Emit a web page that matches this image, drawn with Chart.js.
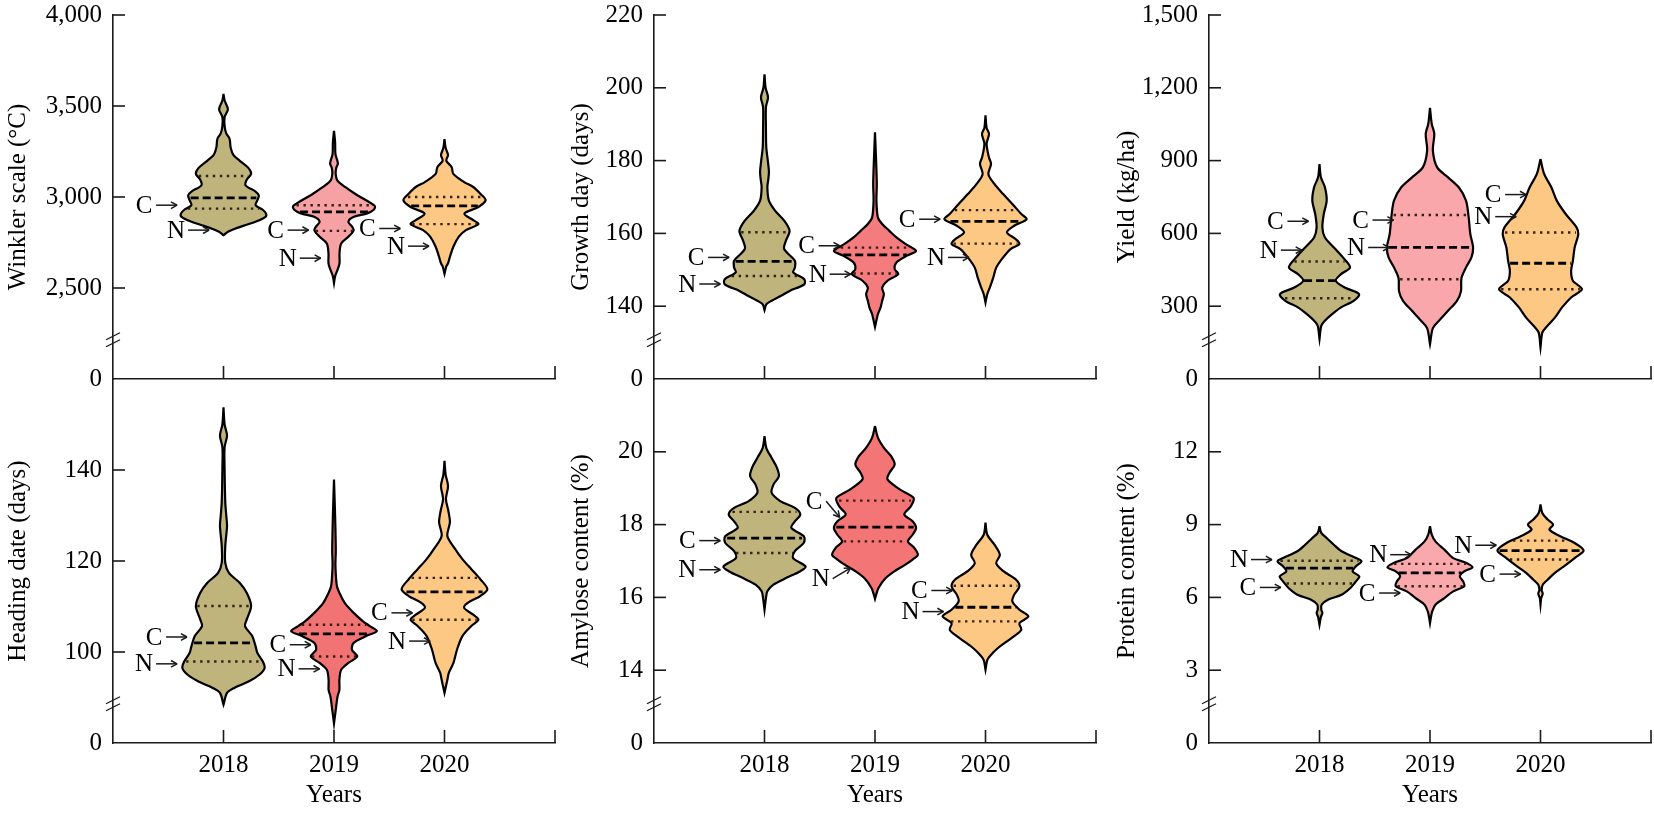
<!DOCTYPE html>
<html>
<head>
<meta charset="utf-8">
<title>Violin plots</title>
<script src="https://cdn.jsdelivr.net/npm/chart.js@4.4.1/dist/chart.umd.min.js"></script>
<style>
  body { margin: 0; background: #fff; width: 1654px; height: 814px; position: relative; overflow: hidden; }
  canvas { position: absolute; }
</style>
</head>
<body>
<script>
const years = ['2018', '2019', '2020'];

// each violin: [value, half width in x-axis units], listed top to bottom
// quartiles: [upper quartile, median, lower quartile] per year
// notes: [letter, arrow tip x, arrow tip value, arrow angle]

// Winkler scale (°C)
const winkler2018 = [[3567,0],[3530,0.01],[3482,0.04],[3440,0.01],[3390,0.01],[3350,0.025],[3320,0.055],[3270,0.065],[3230,0.09],[3200,0.145],[3160,0.225],[3127,0.25],[3095,0.21],[3064,0.2],[3030,0.29],[3009,0.32],[2980,0.305],[2955,0.29],[2930,0.355],[2909,0.385],[2891,0.38],[2864,0.29],[2845,0.195],[2827,0.11],[2809,0.04],[2790,0]];
const winkler2019 = [[3364,0],[3300,0.01],[3236,0.013],[3200,0.03],[3182,0.035],[3160,0.02],[3130,0.015],[3091,0.03],[3055,0.1],[3018,0.19],[2982,0.29],[2950,0.37],[2930,0.36],[2910,0.3],[2891,0.18],[2864,0.13],[2840,0.16],[2818,0.178],[2800,0.16],[2782,0.13],[2745,0.065],[2691,0.05],[2636,0.05],[2600,0.032],[2564,0.01],[2527,0]];
const winkler2020 = [[3318,0],[3270,0.01],[3230,0.032],[3200,0.016],[3164,0.065],[3127,0.08],[3082,0.178],[3055,0.26],[3018,0.324],[2982,0.372],[2945,0.307],[2909,0.18],[2873,0.26],[2851,0.307],[2818,0.194],[2782,0.13],[2727,0.08],[2673,0.05],[2636,0.032],[2618,0.016],[2578,0]];
const winklerQuartiles = [[3115,2995,2936],[2955,2918,2814],[3000,2951,2851]];
const winklerNotes = [['C',0.58,2955,0],['N',0.87,2818,0],['C',1.77,2818,0],['N',1.88,2664,0],['C',2.6,2827,0],['N',2.86,2730,0]];

// Growth day (days)
const growth2018 = [[203.7,0],[200,0.01],[197.4,0.032],[194.7,0.013],[189,0.013],[183.7,0.016],[180,0.03],[177,0.04],[175,0.035],[172.7,0.026],[169,0.04],[166.2,0.097],[163.5,0.178],[160.7,0.227],[158,0.194],[155.7,0.178],[152.5,0.275],[150.6,0.275],[149.3,0.26],[147.4,0.36],[146,0.36],[144.2,0.227],[142.8,0.146],[141.5,0.065],[140.5,0.016],[138.9,0]];
const growth2019 = [[187.8,0],[180,0.01],[174.5,0.016],[172.7,0.016],[169,0.013],[164.4,0.026],[162.6,0.065],[160.7,0.13],[158.9,0.194],[157.1,0.275],[155.2,0.372],[153.9,0.29],[152,0.194],[150.2,0.178],[148.8,0.21],[147,0.113],[145.1,0.065],[143.3,0.08],[141.5,0.065],[139.6,0.05],[137.8,0.026],[134.3,0]];
const growth2020 = [[192.4,0],[189,0.01],[187.3,0.032],[184.6,0.01],[181,0.03],[179.1,0.05],[176.3,0.026],[173.6,0.08],[170.8,0.16],[168.1,0.243],[165.3,0.324],[163.9,0.372],[162.1,0.26],[160.3,0.194],[158.4,0.275],[157.1,0.307],[155.7,0.227],[153.4,0.16],[150.6,0.097],[147.9,0.071],[145.1,0.039],[143.3,0.016],[141,0]];
const growthQuartiles = [[160.3,152.3,148.3],[156.1,154.1,149],[166.4,163.3,157.2]];
const growthNotes = [['C',0.68,153.4,0],['N',0.6,146.1,0],['C',1.68,156.6,0],['N',1.78,148.8,0],['C',2.59,163.9,0],['N',2.85,153.4,0]];

// Yield (kg/ha)
const yield2018 = [[886,0],[831,0.013],[790,0.049],[735,0.065],[680,0.039],[625,0.026],[583,0.049],[542,0.13],[501,0.212],[460,0.277],[432,0.195],[405,0.147],[377,0.228],[350,0.358],[322,0.309],[295,0.195],[267,0.114],[240,0.049],[219,0.016],[164,0]];
const yield2019 = [[1117,0],[1051,0.016],[1010,0.039],[941,0.026],[872,0.065],[831,0.163],[790,0.26],[735,0.326],[666,0.35],[597,0.365],[542,0.39],[501,0.375],[460,0.326],[416,0.285],[361,0.28],[322,0.244],[281,0.163],[240,0.081],[210,0.026],[143,0]];
const yield2020 = [[907,0],[845,0.033],[790,0.098],[735,0.147],[680,0.228],[625,0.326],[597,0.342],[542,0.309],[487,0.293],[446,0.277],[405,0.293],[370,0.375],[336,0.277],[295,0.195],[253,0.13],[212,0.049],[191,0.016],[129,0]];
const yieldQuartiles = [[484,405,333],[676,542,411],[604,477,370]];
const yieldNotes = [['C',0.9,650,0],['N',0.84,531,0],['C',1.67,655,0],['N',1.63,542,0],['C',2.87,760,0],['N',2.78,669,0]];

// Heading date (days)
const heading2018 = [[153.8,0],[150,0.01],[147.6,0.032],[145,0.01],[140.2,0.01],[132.9,0.016],[130,0.025],[127.7,0.032],[123.3,0.016],[119.6,0.016],[117.4,0.049],[115.2,0.146],[113,0.21],[110.1,0.25],[107.1,0.21],[105.7,0.194],[103.5,0.26],[101.3,0.29],[99.8,0.307],[97.9,0.356],[96.5,0.372],[95,0.324],[93.5,0.227],[92.1,0.097],[91,0.032],[88.4,0]];
const heading2019 = [[137.9,0],[130,0.01],[123.3,0.016],[121.8,0.016],[118.9,0.013],[114.5,0.026],[113,0.049],[110.8,0.097],[108.6,0.178],[106.8,0.26],[105.7,0.324],[104.6,0.388],[103.5,0.29],[102,0.178],[100.5,0.162],[99,0.21],[97.6,0.13],[96.1,0.065],[93.9,0.049],[91.7,0.049],[90.2,0.032],[87.3,0.016],[84.3,0]];
const heading2020 = [[142,0],[139,0.01],[136.5,0.032],[133.6,0.013],[131,0.035],[128.5,0.049],[125.5,0.026],[122.6,0.097],[120.4,0.162],[118.2,0.243],[116,0.324],[113.8,0.388],[112.3,0.324],[110.8,0.21],[109.7,0.178],[108.2,0.26],[107.1,0.307],[105.7,0.243],[103.5,0.162],[100.5,0.113],[97.6,0.081],[95.4,0.039],[93.9,0.026],[91,0]];
const headingQuartiles = [[110.1,102,97.9],[106,104,99],[116.3,113.2,107.1]];
const headingNotes = [['C',0.67,103.3,0],['N',0.58,97.4,0],['C',1.79,101.6,0],['N',1.87,96.3,0],['C',2.71,108.6,0],['N',2.87,102.4,0]];

// Amylose content (%)
const amylose2018 = [[20.43,0],[20.11,0.016],[19.83,0.065],[19.56,0.113],[19.33,0.13],[19.1,0.081],[18.87,0.065],[18.64,0.146],[18.46,0.275],[18.28,0.324],[18.09,0.275],[17.91,0.243],[17.68,0.356],[17.5,0.356],[17.27,0.275],[17.08,0.259],[16.85,0.372],[16.72,0.324],[16.53,0.194],[16.35,0.081],[16.17,0.026],[15.98,0.013],[15.66,0]];
const amylose2019 = [[20.71,0],[20.39,0.026],[20.11,0.081],[19.88,0.146],[19.65,0.178],[19.42,0.13],[19.24,0.113],[18.96,0.227],[18.73,0.35],[18.5,0.324],[18.28,0.265],[18.09,0.34],[17.91,0.372],[17.72,0.34],[17.54,0.298],[17.36,0.356],[17.17,0.388],[17.04,0.34],[16.9,0.275],[16.72,0.178],[16.53,0.097],[16.26,0.032],[16.07,0.01],[15.96,0]];
const amylose2020 = [[18.05,0],[17.72,0.016],[17.45,0.081],[17.17,0.13],[16.94,0.097],[16.72,0.162],[16.49,0.275],[16.3,0.307],[16.07,0.259],[15.89,0.243],[15.66,0.307],[15.48,0.388],[15.29,0.307],[15.11,0.324],[14.97,0.275],[14.79,0.194],[14.61,0.113],[14.42,0.049],[14.28,0.016],[14.01,0]];
const amyloseQuartiles = [[18.35,17.63,17.22],[18.66,17.93,17.54],[16.32,15.73,15.34]];
const amyloseNotes = [['C',0.6,17.56,0],['N',0.6,16.76,0],['C',1.68,18.2,50],['N',1.78,16.81,-31],['C',2.7,16.19,0],['N',2.62,15.61,0]];

// Protein content (%)
const protein2018 = [[8.93,0],[8.66,0.016],[8.45,0.065],[8.17,0.13],[7.9,0.2],[7.62,0.33],[7.49,0.38],[7.28,0.33],[7.07,0.3],[6.87,0.36],[6.66,0.33],[6.39,0.28],[6.11,0.2],[5.91,0.08],[5.7,0.02],[5.5,0.016],[5.36,0.026],[5.2,0.013],[4.87,0]];
const protein2019 = [[8.93,0],[8.59,0.016],[8.31,0.049],[7.97,0.13],[7.62,0.21],[7.42,0.33],[7.24,0.385],[7.07,0.31],[6.87,0.27],[6.66,0.3],[6.46,0.31],[6.25,0.21],[5.97,0.13],[5.7,0.049],[5.42,0.02],[5.22,0.01],[4.94,0]];
const protein2020 = [[9.83,0],[9.48,0.016],[9.21,0.065],[9,0.114],[8.79,0.081],[8.52,0.179],[8.24,0.309],[7.93,0.39],[7.62,0.309],[7.28,0.212],[7.01,0.13],[6.73,0.065],[6.52,0.02],[6.3,0.01],[6.15,0.02],[5.97,0.006],[5.7,0]];
const proteinQuartiles = [[7.51,7.21,6.57],[7.38,7.01,6.46],[8.34,7.93,7.56]];
const proteinNotes = [['N',0.57,7.56,0],['C',0.65,6.41,0],['N',1.83,7.76,0],['C',1.73,6.18,0],['N',2.6,8.15,0],['C',2.82,6.96,0]];

const olive = '#BEB47C';
const orange = '#FDC884';

const panels = [
  { title: 'Winkler scale (°C)', min: 2000, max: 4000, step: 500, violins: [winkler2018, winkler2019, winkler2020], quartiles: winklerQuartiles, notes: winklerNotes, colors: [olive, '#F6A1A4', orange] },
  { title: 'Growth day (days)', min: 120, max: 220, step: 20, violins: [growth2018, growth2019, growth2020], quartiles: growthQuartiles, notes: growthNotes, colors: [olive, '#F47C7E', orange] },
  { title: 'Yield (kg/ha)', min: 0, max: 1500, step: 300, violins: [yield2018, yield2019, yield2020], quartiles: yieldQuartiles, notes: yieldNotes, colors: [olive, '#F9A7AA', orange] },
  { title: 'Heading date (days)', min: 80, max: 160, step: 20, violins: [heading2018, heading2019, heading2020], quartiles: headingQuartiles, notes: headingNotes, colors: [olive, '#F27374', orange] },
  { title: 'Amylose content (%)', min: 12, max: 22, step: 2, violins: [amylose2018, amylose2019, amylose2020], quartiles: amyloseQuartiles, notes: amyloseNotes, colors: [olive, '#F47576', orange] },
  { title: 'Protein content (%)', min: 0, max: 15, step: 3, violins: [protein2018, protein2019, protein2020], quartiles: proteinQuartiles, notes: proteinNotes, colors: [olive, '#F9A8AC', orange] }
];

// page layout: three columns, two stacked rows sharing one axis line
const cols = [
  { left: 0, width: 560, yWidth: 113 },
  { left: 563, width: 540, yWidth: 91 },
  { left: 1109, width: 545, yWidth: 100 }
];
const rows = [
  { top: 0, height: 400, padTop: 15, xHeight: 21, labelled: false },
  { top: 369, height: 445, padTop: 10, xHeight: 71, labelled: true }
];
const plotWidth = 442;
const axisColor = '#1a1a1a';

Chart.defaults.font.family = '"Liberation Serif", "Times New Roman", serif';
Chart.defaults.font.size = 25;
Chart.defaults.color = '#000';

function outline(profile, centre) {
  const right = profile.map(([v, w]) => ({ x: centre + w, y: v }));
  const left = profile.slice().reverse().map(([v, w]) => ({ x: centre - w, y: v }));
  return right.concat(left);
}

function widthAt(profile, v) {
  for (let i = 0; i < profile.length - 1; i++) {
    const [v0, w0] = profile[i];
    const [v1, w1] = profile[i + 1];
    if (v <= v0 && v >= v1) return w0 + (w1 - w0) * (v0 - v) / (v0 - v1);
  }
  return 0;
}

// inward ticks, axis break and the C / N arrows
const decor = {
  id: 'decor',
  afterDraw(chart, args, opts) {
    const { ctx, chartArea: a, scales: { x, y } } = chart;
    ctx.save();
    ctx.strokeStyle = axisColor;
    ctx.lineWidth = 1.6;
    const seg = (x0, y0, x1, y1) => { ctx.beginPath(); ctx.moveTo(x0, y0); ctx.lineTo(x1, y1); ctx.stroke(); };

    y.ticks.forEach(t => {
      if (t.value === y.min || (opts.hideTop && t.value === y.max)) return;
      const py = y.getPixelForValue(t.value);
      seg(a.left, py, a.left + 12, py);
    });
    x.ticks.forEach(t => {
      if (t.value === x.min) return;
      const px = x.getPixelForValue(t.value);
      seg(px, a.bottom, px, a.bottom - 13);
    });

    const by = y.getPixelForValue(y.min + opts.breakAt * (y.max - y.min));
    ctx.lineWidth = 1.3;
    [-4, 3].forEach(k => seg(a.left - 7, by + k + 3, a.left + 7, by + k - 4));

    ctx.fillStyle = '#000';
    ctx.font = '25px "Liberation Serif", serif';
    ctx.textAlign = 'center';
    ctx.textBaseline = 'middle';
    ctx.lineWidth = 1.5;
    opts.notes.forEach(([letter, nx, ny, ang]) => {
      const tx = x.getPixelForValue(nx);
      const ty = y.getPixelForValue(ny);
      const r = ang * Math.PI / 180;
      const sx = tx - 21 * Math.cos(r);
      const sy = ty - 21 * Math.sin(r);
      seg(sx, sy, tx, ty);
      [0.5, -0.5].forEach(d => seg(tx, ty, tx - 7 * Math.cos(r + d), ty - 7 * Math.sin(r + d)));
      ctx.fillText(letter, sx - 12, sy + 1);
    });
    ctx.restore();
  }
};

panels.forEach((p, i) => {
  const col = cols[i % 3];
  const row = rows[Math.floor(i / 3)];
  const cv = document.createElement('canvas');
  cv.width = col.width;
  cv.height = row.height;
  cv.style.left = col.left + 'px';
  cv.style.top = row.top + 'px';
  document.body.appendChild(cv);

  const datasets = [];
  p.violins.forEach((profile, k) => {
    datasets.push({
      data: outline(profile, k + 1),
      showLine: true,
      fill: 'shape',
      backgroundColor: p.colors[k],
      borderColor: '#000',
      borderWidth: 2.2,
      pointRadius: 0,
      tension: 0.3,
      order: 2
    });
  });
  // median (dashed) and quartiles (dotted), drawn over the violins
  p.quartiles.forEach((q, k) => {
    q.forEach((v, j) => {
      const w = widthAt(p.violins[k], v) * 0.95;
      datasets.push({
        data: [{ x: k + 1 - w, y: v }, { x: k + 1 + w, y: v }],
        showLine: true,
        fill: false,
        borderColor: j === 1 ? '#000' : 'rgba(40,25,12,0.95)',
        borderWidth: j === 1 ? 2.8 : 2.4,
        borderDash: j === 1 ? [8, 4] : [2.4, 4.6],
        pointRadius: 0,
        order: 1
      });
    });
  });

  new Chart(cv, {
    type: 'scatter',
    data: { datasets },
    options: {
      responsive: false,
      animation: false,
      events: [],
      layout: { padding: { top: row.padTop, right: col.width - col.yWidth - plotWidth, left: 0, bottom: 0 } },
      plugins: {
        legend: { display: false },
        tooltip: { enabled: false },
        decor: { notes: p.notes, hideTop: row.labelled, breakAt: 0.105 }
      },
      scales: {
        x: {
          type: 'linear', min: 0, max: 4,
          grid: { display: false, drawTicks: false },
          border: { display: true, color: axisColor, width: 1.6 },
          ticks: {
            display: row.labelled, stepSize: 1, padding: 7, maxRotation: 0, autoSkip: false,
            callback: v => (v >= 1 && v <= 3) ? years[v - 1] : ''
          },
          title: { display: row.labelled, text: 'Years', padding: { top: 0, bottom: 4 } },
          afterFit: s => { s.height = row.xHeight; s.paddingLeft = 0; s.paddingRight = 0; }
        },
        y: {
          type: 'linear', min: p.min, max: p.max,
          grid: { display: false, drawTicks: false },
          border: { display: true, color: axisColor, width: 1.6 },
          ticks: {
            stepSize: p.step, padding: 11,
            callback: v => v === p.min ? '0' : (row.labelled && v === p.max ? '' : v.toLocaleString('en-US'))
          },
          title: { display: true, text: p.title, padding: { top: 3, bottom: 0 } },
          afterFit: s => { s.width = col.yWidth; s.paddingTop = 0; s.paddingBottom = 0; }
        }
      }
    },
    plugins: [decor]
  });
});
</script>
</body>
</html>
